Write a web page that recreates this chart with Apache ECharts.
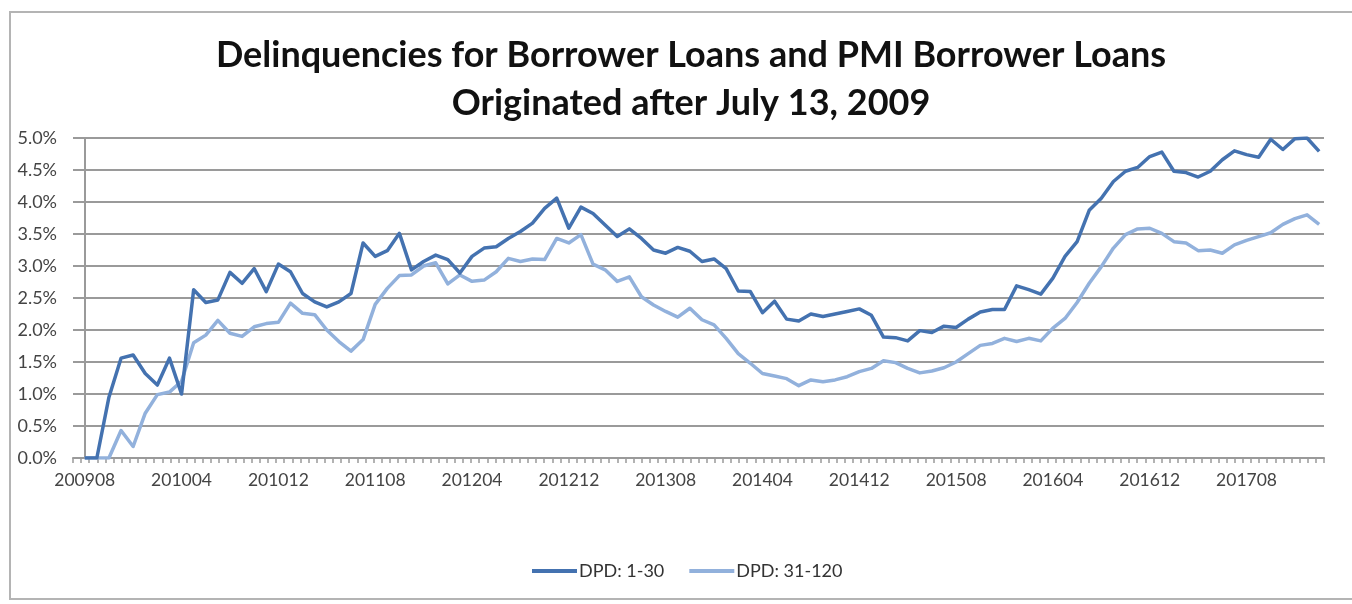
<!DOCTYPE html>
<html><head><meta charset="utf-8">
<script src="https://cdn.jsdelivr.net/npm/echarts@6/dist/echarts.min.js"></script>
<style>html,body{margin:0;padding:0;background:#fff}#c{width:1352px;height:604px}</style>
</head><body><div id="c"></div>
<script>
const months = [
'200908','200909','200910','200911','200912',
'201001','201002','201003','201004','201005','201006','201007','201008','201009','201010','201011','201012',
'201101','201102','201103','201104','201105','201106','201107','201108','201109','201110','201111','201112',
'201201','201202','201203','201204','201205','201206','201207','201208','201209','201210','201211','201212',
'201301','201302','201303','201304','201305','201306','201307','201308','201309','201310','201311','201312',
'201401','201402','201403','201404','201405','201406','201407','201408','201409','201410','201411','201412',
'201501','201502','201503','201504','201505','201506','201507','201508','201509','201510','201511','201512',
'201601','201602','201603','201604','201605','201606','201607','201608','201609','201610','201611','201612',
'201701','201702','201703','201704','201705','201706','201707','201708','201709','201710','201711','201712',
'201801','201802'];
const labelMonths = ['200908','201004','201012','201108','201204','201212','201308','201404','201412','201508','201604','201612','201708'];
const dpd1to30 = [
0,0,0.95,1.56,1.61,1.32,1.14,1.56,1.0,2.63,
2.43,2.47,2.9,2.73,2.96,2.6,3.03,2.91,2.57,2.44,
2.36,2.44,2.57,3.36,3.15,3.24,3.51,2.94,3.07,3.17,
3.1,2.89,3.15,3.28,3.3,3.43,3.54,3.67,3.9,4.06,
3.59,3.92,3.82,3.64,3.46,3.58,3.43,3.25,3.2,3.29,
3.23,3.07,3.11,2.96,2.61,2.6,2.27,2.45,2.17,2.14,
2.25,2.21,2.25,2.29,2.33,2.23,1.89,1.88,1.83,1.99,
1.96,2.06,2.04,2.17,2.28,2.32,2.32,2.69,2.63,2.56,
2.81,3.15,3.38,3.87,4.06,4.32,4.48,4.54,4.71,4.78,
4.48,4.46,4.39,4.48,4.66,4.8,4.74,4.7,4.98,4.82,
4.99,5.0,4.79];
const dpd31to120 = [
0,0,0,0.43,0.18,0.7,0.99,1.03,1.2,1.8,
1.92,2.15,1.95,1.9,2.05,2.1,2.12,2.42,2.26,2.24,
2.0,1.82,1.67,1.85,2.4,2.65,2.85,2.86,3.0,3.05,
2.72,2.86,2.76,2.78,2.91,3.12,3.07,3.11,3.1,3.43,
3.36,3.49,3.03,2.94,2.76,2.83,2.52,2.39,2.29,2.2,
2.34,2.16,2.08,1.87,1.63,1.48,1.32,1.28,1.24,1.13,
1.22,1.19,1.22,1.27,1.35,1.4,1.52,1.49,1.4,1.33,
1.36,1.41,1.5,1.63,1.76,1.79,1.87,1.82,1.87,1.83,
2.03,2.18,2.43,2.73,2.99,3.28,3.49,3.58,3.59,3.51,
3.38,3.36,3.24,3.25,3.2,3.33,3.4,3.46,3.52,3.65,
3.74,3.8,3.65];
const seriesNames = ['DPD: 1-30','DPD: 31-120'];
const titleLines = ['Delinquencies for Borrower Loans and PMI Borrower Loans','Originated after July 13, 2009'];

const xMin = -0.97, xMax = 102.4, minorCount = 154;
const labelPos = labelMonths.map(m => months.indexOf(m));
const tickPos = [];
for (let j = 0; j <= minorCount; j++) tickPos.push(xMin + j * (xMax - xMin) / minorCount);
const toPairs = arr => arr.map((v, i) => [i, v]);

const chart = echarts.init(document.getElementById('c'), null, {renderer: 'canvas'});
const FONT = 'Lato';
chart.setOption({
  animation: false,
  backgroundColor: '#fff',
  graphic: [{type: 'rect', shape: {x: 10, y: 12, width: 1400, height: 587}, style: {fill: 'none', stroke: '#b4b4b4', lineWidth: 2}, silent: true}],
  title: {
    text: titleLines.join('\n'), left: 686, textAlign: 'center', top: 26,
    textStyle: {fontFamily: FONT, fontWeight: 'bold', fontSize: 36, lineHeight: 48, color: '#111'}
  },
  legend: {
    bottom: 19, left: 527, itemWidth: 45, itemHeight: 4, itemGap: 25, icon: 'rect',
    textStyle: {fontFamily: FONT, fontSize: 18, color: '#333', padding: [0, 0, 0, -3]},
    data: seriesNames
  },
  grid: {left: 73, right: 28, top: 138, bottom: 146, containLabel: false},
  xAxis: {
    type: 'value', min: xMin, max: xMax,
    axisLine: {show: true, lineStyle: {color: '#9a9a9a', width: 2}},
    axisTick: {show: true, customValues: tickPos, length: 5, lineStyle: {color: '#9a9a9a', width: 1.5}},
    axisLabel: {customValues: labelPos, formatter: v => months[Math.round(v)], margin: 13,
      fontFamily: FONT, fontSize: 17.5, color: '#444'},
    splitLine: {show: false}
  },
  yAxis: {
    type: 'value', min: 0, max: 5, interval: 0.5,
    axisLine: {show: true, lineStyle: {color: '#9a9a9a', width: 2}},
    axisTick: {show: true, length: 5, lineStyle: {color: '#9a9a9a', width: 1.5}},
    axisLabel: {formatter: v => v.toFixed(1) + '%', margin: 16, fontFamily: FONT, fontSize: 18, color: '#444'},
    splitLine: {show: true, lineStyle: {color: '#9a9a9a', width: 2}}
  },
  series: [
    {name: seriesNames[0], type: 'line', data: toPairs(dpd1to30), showSymbol: false, symbol: 'none',
     lineStyle: {color: '#4472b0', width: 3.5, join: 'round'}, itemStyle: {color: '#4472b0'}},
    {name: seriesNames[1], type: 'line', data: toPairs(dpd31to120), showSymbol: false, symbol: 'none',
     lineStyle: {color: '#92b1dc', width: 3.5, join: 'round'}, itemStyle: {color: '#92b1dc'}, z: 1}
  ]
});
</script></body></html>
